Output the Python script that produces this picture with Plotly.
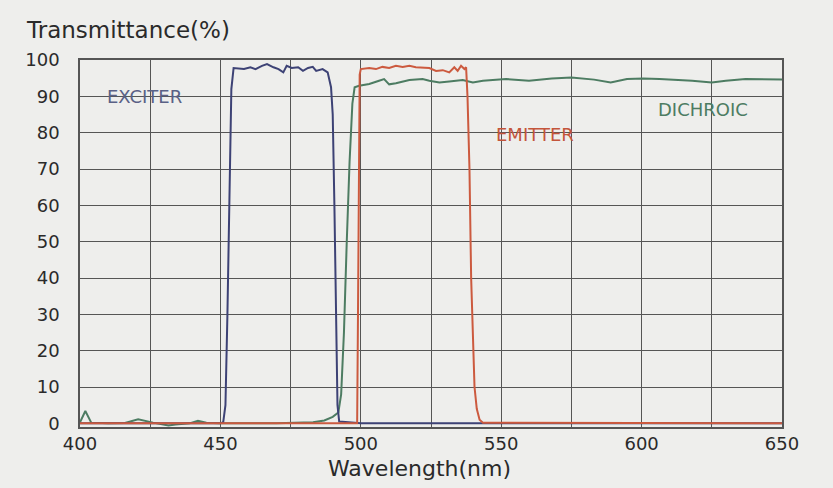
import plotly.graph_objects as go

# ---- data ----
exciter_x = [400, 420, 440, 450, 451, 451.8, 452.5, 453.2, 453.9, 454.7, 458.4, 460.7, 462.5,
             464.8, 466.6, 468.9, 470.7, 472.4, 473.6, 475.4, 477.7, 479.4, 481.2, 482.9, 484.1,
             486.4, 488.2, 489.4, 490.0, 490.6, 491.2, 491.7, 492.3, 500, 540, 650]
exciter_y = [0, 0, 0, 0, 0.3, 5, 30, 65, 92, 97.8, 97.5, 98.0, 97.5,
             98.4, 98.9, 98.0, 97.5, 96.6, 98.4, 97.8, 98.0, 97.0, 97.8, 98.1, 97.0,
             97.5, 96.6, 92.5, 85, 60, 25, 5, 0.5, 0, 0, 0]

emitter_x = [400, 450, 498.7, 499.0, 499.3, 499.6, 500, 503, 505.4, 507.7, 510.1, 512.5, 514.9,
             517.3, 519.6, 522, 524.4, 526.8, 529.2, 531.5, 533.3, 534.5, 535.7, 536.9, 537.5,
             538.0, 538.7, 539.3, 539.8, 540.5, 541.3, 542.3, 543.5, 600, 650]
emitter_y = [0, 0, 0, 30, 80, 96, 97.5, 97.8, 97.5, 98.1, 97.8, 98.4, 98.1,
             98.4, 98.0, 98.0, 97.8, 97.0, 97.2, 96.6, 98.0, 97.0, 98.4, 97.5, 98.0,
             90, 70, 40, 25, 10, 4, 1, 0.2, 0, 0]

dichroic_x = [400, 401.9, 404, 410, 416, 420.7, 426, 429.6, 431.5, 434, 439, 442, 445, 450, 470,
              483, 487, 490, 492, 493, 494, 495, 496, 497, 497.8, 499.4, 503, 506.5, 508.3,
              510.1, 512.5, 517.3, 522, 524.4, 528, 531.5, 536.3, 539.9, 543.5, 551.7, 559.9,
              568, 575, 583.1, 589, 594.8, 600.6, 606.4, 612.2, 618, 625, 630, 637, 650]
dichroic_y = [0.3, 3.4, 0.2, 0, 0.1, 1.1, 0.2, -0.3, -0.6, -0.3, 0, 0.7, 0.2, 0, 0,
              0.3, 0.8, 1.8, 3, 8, 25, 50, 72, 88, 92.5, 92.9, 93.4, 94.3, 94.75,
              93.3, 93.6, 94.5, 94.75, 94.3, 93.8, 94.1, 94.5, 93.8, 94.3, 94.75, 94.3,
              94.9, 95.2, 94.6, 93.8, 94.75, 94.9, 94.75, 94.6, 94.3, 93.8, 94.3, 94.75, 94.6]

x_ticks = [400, 450, 500, 550, 600, 650]
y_ticks = [0, 10, 20, 30, 40, 50, 60, 70, 80, 90, 100]

labels = ["EXCITER", "EMITTER", "DICHROIC"]
label_x = [423, 562, 622]
label_y = [90, 79.5, 86.5]

# ---- style ----
BG = "#eeeeec"
GRID = "#555555"
TXT = "#2a2a2a"
C_EXC = "#3d4275"
C_EMI = "#cc5a3f"
C_DIC = "#4d7c62"
FONT = "DejaVu Sans, Liberation Sans, Arial, sans-serif"

fig = go.Figure()
fig.add_trace(go.Scatter(x=dichroic_x, y=dichroic_y, mode="lines",
                         line=dict(color=C_DIC, width=2), name="DICHROIC"))
fig.add_trace(go.Scatter(x=exciter_x, y=exciter_y, mode="lines",
                         line=dict(color=C_EXC, width=2), name="EXCITER"))
fig.add_trace(go.Scatter(x=emitter_x, y=emitter_y, mode="lines",
                         line=dict(color=C_EMI, width=2), name="EMITTER"))

label_colors = ["#5a6186", "#c4553b", "#4d7c62"]
for t, lx, ly, c in zip(labels, label_x, label_y, label_colors):
    fig.add_annotation(x=lx, y=ly, text=t, showarrow=False, xref="x", yref="y",
                       font=dict(family=FONT, size=18, color=c),
                       xanchor="center", yanchor="middle")

fig.add_annotation(x=0.484, y=-0.112, xref="paper", yref="paper",
                   text="Wavelength(nm)", showarrow=False,
                   font=dict(family=FONT, size=22, color=TXT),
                   xanchor="center", yanchor="middle")

fig.update_layout(
    width=833, height=488,
    paper_bgcolor=BG, plot_bgcolor=BG,
    margin=dict(l=80, r=51, t=60, b=61),
    showlegend=False,
    font=dict(family=FONT, color=TXT),
    title=dict(text="Transmittance(%)", x=27 / 833, xanchor="left",
               y=1 - 30 / 488, yanchor="middle", xref="container", yref="container",
               font=dict(family=FONT, size=23, color=TXT)),
    xaxis=dict(range=[400, 650], tickvals=x_ticks, ticktext=[str(v) for v in x_ticks],
               showgrid=True, gridcolor=GRID, gridwidth=1.3,
               minor=dict(dtick=25, tick0=400, showgrid=True, gridcolor=GRID, gridwidth=1.3),
               showline=True, linecolor=GRID, linewidth=1.6, mirror=True,
               zeroline=False, tickfont=dict(family=FONT, size=18, color=TXT),
               ticks="", ticklabelstandoff=0),
    yaxis=dict(range=[-1, 100], tickvals=y_ticks, ticktext=[str(v) for v in y_ticks],
               showgrid=True, gridcolor=GRID, gridwidth=1.3,
               showline=True, linecolor=GRID, linewidth=1.6, mirror=True,
               zeroline=False, tickfont=dict(family=FONT, size=18, color=TXT),
               ticks="", ticklabelstandoff=15),
)

fig.write_html("out.html", config={"displayModeBar": False},
               post_script="document.body.style.margin='0';"
                           "document.body.style.background='#eeeeec';")
